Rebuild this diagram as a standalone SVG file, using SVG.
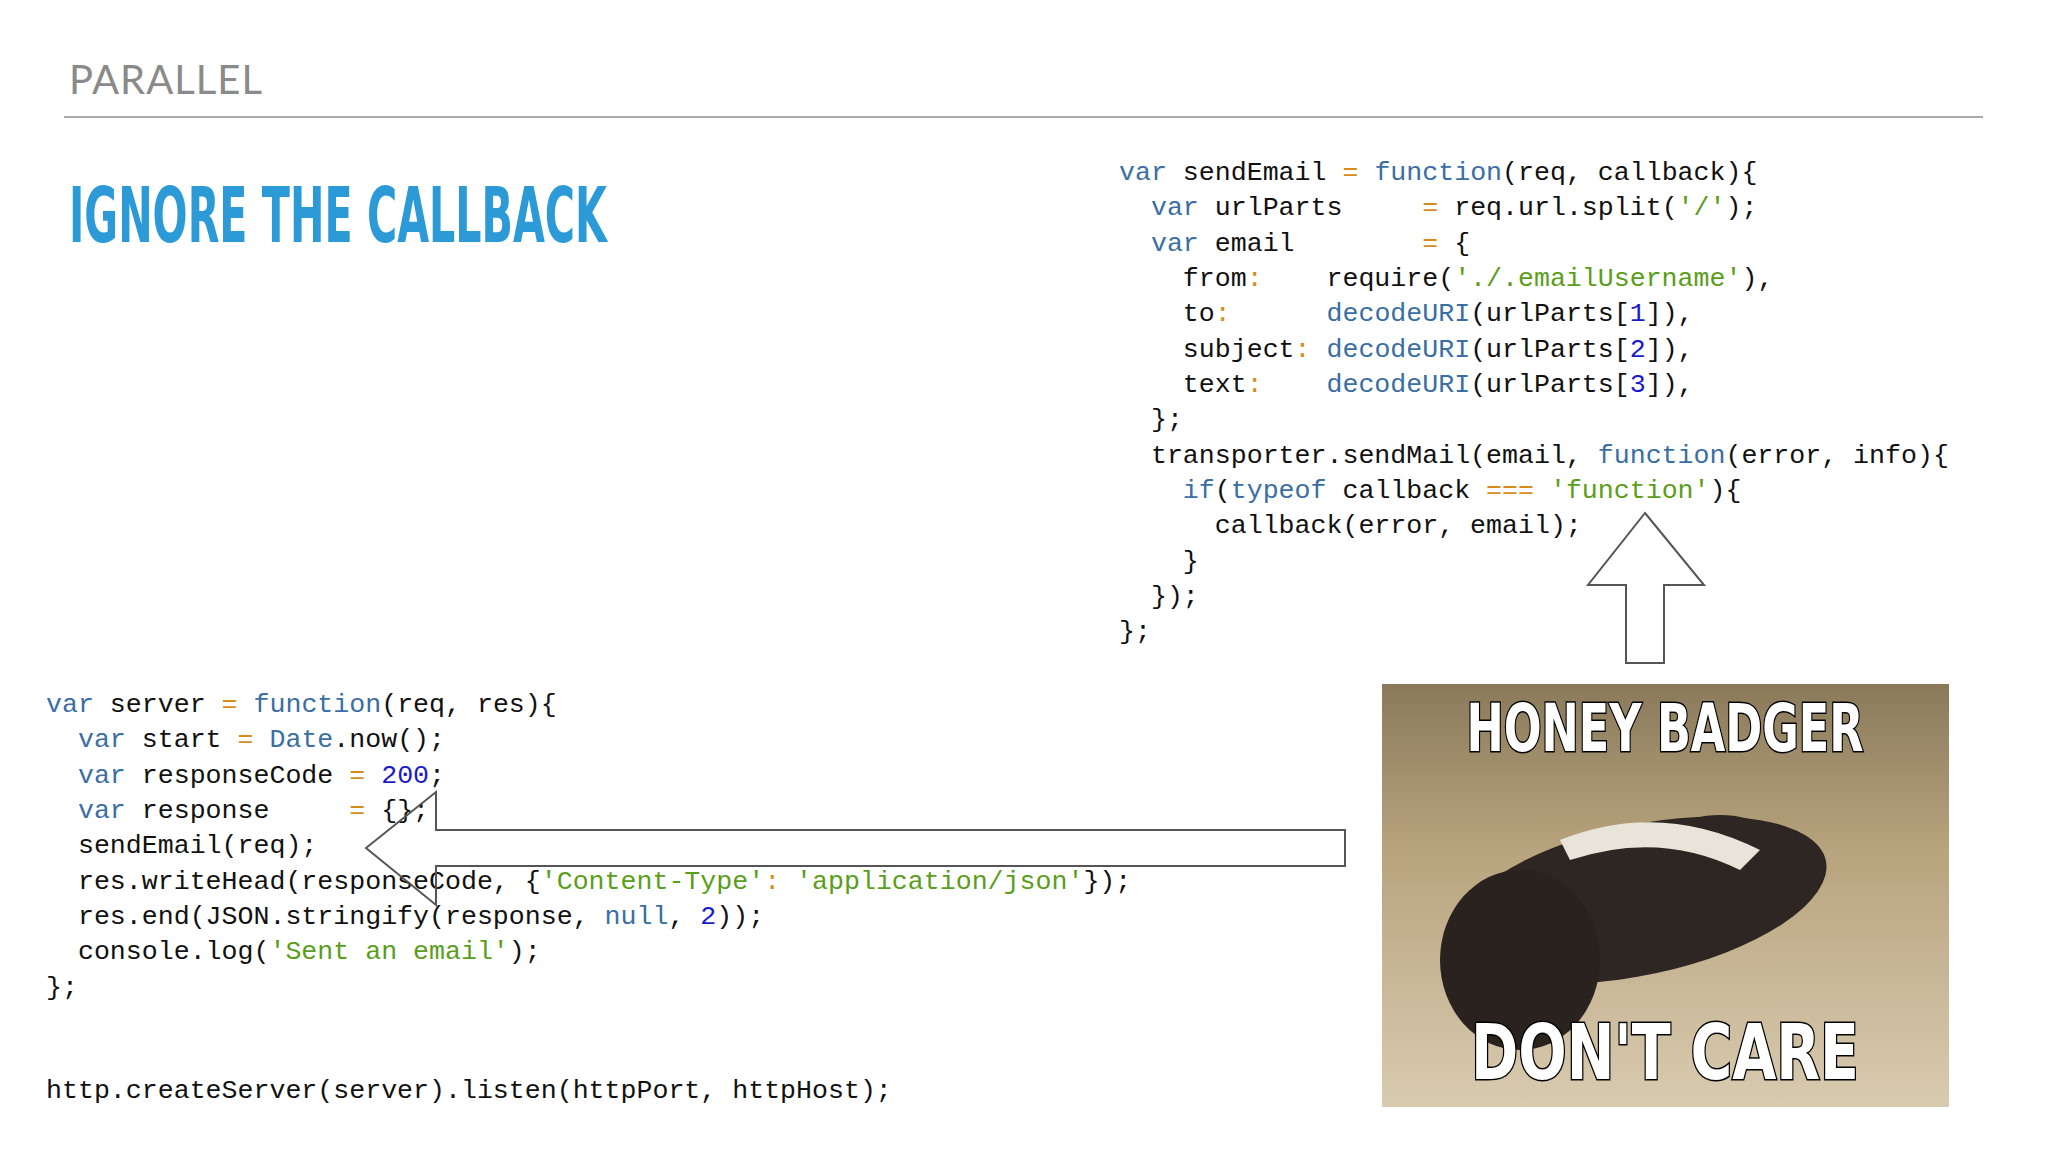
<svg xmlns="http://www.w3.org/2000/svg" width="2048" height="1152" viewBox="0 0 2048 1152">
<style>
.code{font-family:"Liberation Mono","DejaVu Sans Mono",monospace;font-size:26.6px;fill:#111;white-space:pre}
.k{fill:#3a6ea5}.n{fill:#1a1acc}.s{fill:#5a9e1a}.o{fill:#d98b1a}
.arrow{fill:none;stroke:#555;stroke-width:2}
.meme{font-family:"DejaVu Sans Condensed","Liberation Sans",sans-serif;font-weight:bold;fill:#fff;stroke:#000;stroke-width:3;paint-order:stroke}
</style>
<rect width="2048" height="1152" fill="#fff"/>
<g id="header">
<text x="69" y="94" font-family="Lato,'Open Sans',sans-serif" font-size="40" fill="#8a8a8a" letter-spacing="1">PARALLEL</text>
<line x1="64" y1="117" x2="1983" y2="117" stroke="#aaa" stroke-width="2"/>
<text x="69" y="242" font-family="'DejaVu Sans Condensed','Liberation Sans',sans-serif" font-weight="bold" font-size="76" fill="#2b9ad6" textLength="538" lengthAdjust="spacingAndGlyphs">IGNORE THE CALLBACK</text>
</g>
<g id="sendEmail-code" class="code">
<text x="1119" y="180" xml:space="preserve"><tspan class="k">var</tspan> sendEmail <tspan class="o">=</tspan> <tspan class="k">function</tspan>(req, callback){</text>
<text x="1119" y="215" xml:space="preserve">  <tspan class="k">var</tspan> urlParts     <tspan class="o">=</tspan> req.url.split(<tspan class="s">'/'</tspan>);</text>
<text x="1119" y="251" xml:space="preserve">  <tspan class="k">var</tspan> email        <tspan class="o">=</tspan> {</text>
<text x="1119" y="286" xml:space="preserve">    from<tspan class="o">:</tspan>    require(<tspan class="s">'./.emailUsername'</tspan>),</text>
<text x="1119" y="321" xml:space="preserve">    to<tspan class="o">:</tspan>      <tspan class="k">decodeURI</tspan>(urlParts[<tspan class="n">1</tspan>]),</text>
<text x="1119" y="357" xml:space="preserve">    subject<tspan class="o">:</tspan> <tspan class="k">decodeURI</tspan>(urlParts[<tspan class="n">2</tspan>]),</text>
<text x="1119" y="392" xml:space="preserve">    text<tspan class="o">:</tspan>    <tspan class="k">decodeURI</tspan>(urlParts[<tspan class="n">3</tspan>]),</text>
<text x="1119" y="427" xml:space="preserve">  };</text>
<text x="1119" y="463" xml:space="preserve">  transporter.sendMail(email, <tspan class="k">function</tspan>(error, info){</text>
<text x="1119" y="498" xml:space="preserve">    <tspan class="k">if</tspan>(<tspan class="k">typeof</tspan> callback <tspan class="o">===</tspan> <tspan class="s">'function'</tspan>){</text>
<text x="1119" y="533" xml:space="preserve">      callback(error, email);</text>
<text x="1119" y="569" xml:space="preserve">    }</text>
<text x="1119" y="604" xml:space="preserve">  });</text>
<text x="1119" y="639" xml:space="preserve">};</text>
</g>
<g id="server-code" class="code">
<text x="46" y="712" xml:space="preserve"><tspan class="k">var</tspan> server <tspan class="o">=</tspan> <tspan class="k">function</tspan>(req, res){</text>
<text x="46" y="747" xml:space="preserve">  <tspan class="k">var</tspan> start <tspan class="o">=</tspan> <tspan class="k">Date</tspan>.now();</text>
<text x="46" y="783" xml:space="preserve">  <tspan class="k">var</tspan> responseCode <tspan class="o">=</tspan> <tspan class="n">200</tspan>;</text>
<text x="46" y="818" xml:space="preserve">  <tspan class="k">var</tspan> response     <tspan class="o">=</tspan> {};</text>
<text x="46" y="853" xml:space="preserve">  sendEmail(req);</text>
<text x="46" y="889" xml:space="preserve">  res.writeHead(responseCode, {<tspan class="s">'Content-Type'</tspan><tspan class="o">:</tspan> <tspan class="s">'application/json'</tspan>});</text>
<text x="46" y="924" xml:space="preserve">  res.end(JSON.stringify(response, <tspan class="k">null</tspan>, <tspan class="n">2</tspan>));</text>
<text x="46" y="959" xml:space="preserve">  console.log(<tspan class="s">'Sent an email'</tspan>);</text>
<text x="46" y="995" xml:space="preserve">};</text>
<text x="46" y="1098" xml:space="preserve">http.createServer(server).listen(httpPort, httpHost);</text>
</g>
<g id="meme">
<defs><linearGradient id="bg" x1="0" y1="0" x2="0" y2="1"><stop offset="0" stop-color="#8a7a5a"/><stop offset="0.4" stop-color="#b8a47e"/><stop offset="1" stop-color="#d9cbb0"/></linearGradient></defs>
<rect x="1382" y="684" width="567" height="423" fill="url(#bg)"/>
<ellipse cx="1640" cy="900" rx="190" ry="75" fill="#2e2622" transform="rotate(-12 1640 900)"/>
<ellipse cx="1520" cy="960" rx="80" ry="90" fill="#2a221e"/>
<ellipse cx="1720" cy="860" rx="70" ry="45" fill="#2e2622"/>
<path d="M1560 840 Q1660 800 1760 850 L1740 870 Q1660 830 1570 860 Z" fill="#e8e4da"/>
<text class="meme" x="1665" y="751" font-size="66" text-anchor="middle" textLength="397" lengthAdjust="spacingAndGlyphs">HONEY BADGER</text>
<text class="meme" x="1665" y="1079" font-size="76" text-anchor="middle" textLength="388" lengthAdjust="spacingAndGlyphs">DON'T CARE</text>
</g>
<g id="connectors">
<polygon class="arrow" points="366,848 436,792 436,830 1345,830 1345,866 436,866 436,905"/>
<polygon class="arrow" points="1645,513 1704,585 1664,585 1664,663 1626,663 1626,585 1588,585"/>
</g>
</svg>
